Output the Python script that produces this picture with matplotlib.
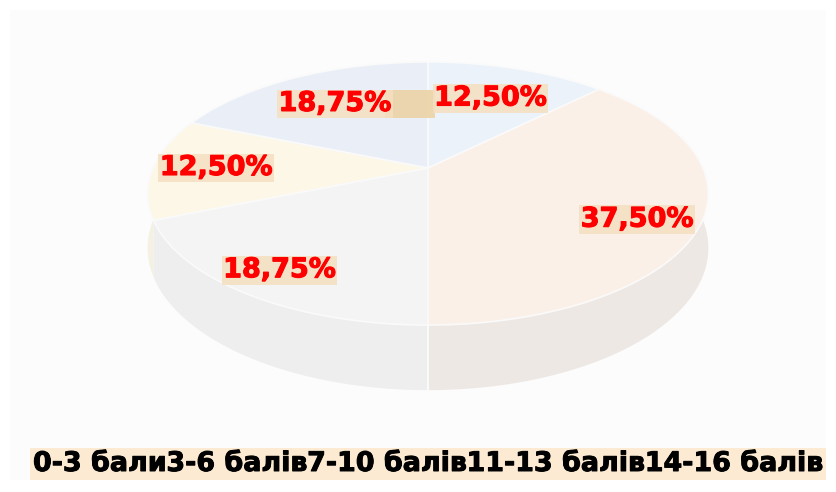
import numpy as np
import matplotlib
matplotlib.use("Agg")
import matplotlib.pyplot as plt
import matplotlib.patheffects as pe
from matplotlib.patches import Polygon, Rectangle

categories = ["0-3 бали", "3-6 балів", "7-10 балів", "11-13 балів", "14-16 балів"]
values = [12.50, 37.50, 18.75, 12.50, 18.75]
labels = ["12,50%", "37,50%", "18,75%", "12,50%", "18,75%"]

top_colors = ["#ebf2fa", "#fbf0e8", "#f4f4f4", "#fdf7e8", "#eaeff7"]
side_colors = ["#e6ecf3", "#eee8e4", "#eeeeee", "#f4f0e4", "#e6eaf1"]

W, H = 836, 492
fig = plt.figure(figsize=(W / 100, H / 100), dpi=100)
ax = fig.add_axes([0, 0, 1, 1])
ax.set_xlim(0, W)
ax.set_ylim(H, 0)
ax.axis("off")

# faint panel
ax.add_patch(Rectangle((10, 10), 816, 470, facecolor="#fcfcfc", edgecolor="none", zorder=0))

# perspective mapping of a unit disk
cx, cy = 428.0, 168.0
gam = 0.1939
alpha = -94.0
ax_a = 275.0
depth = 52.5


def proj(X, Y, z=0.0):
    w = gam * Y + 1.0
    u = cx + ax_a * X / w
    v = (alpha * Y + cy) / w + z / w
    return u, v


fracs = np.array(values) / np.sum(values)
starts = np.concatenate([[0], np.cumsum(fracs)[:-1]])


def angle(f):
    # clockwise from 12 o'clock
    return np.pi / 2 - 2 * np.pi * f


# sides (front half only visible)
for i, (s, f) in enumerate(zip(starts, fracs)):
    t = np.linspace(angle(s), angle(s + f), 200)
    X, Y = np.cos(t), np.sin(t)
    mask = Y <= 0.02
    if not mask.any():
        continue
    X, Y = X[mask], Y[mask]
    u1, v1 = proj(X, Y)
    u2, v2 = proj(X, Y, depth)
    pts = np.concatenate([np.column_stack([u1, v1]), np.column_stack([u2, v2])[::-1]])
    ax.add_patch(Polygon(pts, closed=True, facecolor=side_colors[i], edgecolor="none", zorder=1))

# vertical seam line at front
u1, v1 = proj(0, -1)
u2, v2 = proj(0, -1, depth)
ax.plot([u1, u2], [v1, v2], color="#fafafa", lw=1.5, zorder=1.5)

# top surface
for i, (s, f) in enumerate(zip(starts, fracs)):
    t = np.linspace(angle(s), angle(s + f), 200)
    X = np.concatenate([[0], np.cos(t)])
    Y = np.concatenate([[0], np.sin(t)])
    u, v = proj(X, Y)
    ax.add_patch(Polygon(np.column_stack([u, v]), closed=True, facecolor=top_colors[i],
                         edgecolor="#fafafa", lw=1.2, zorder=2))

# labels
label_r = [0.665, 0.80, 0.84, 0.77, 0.675]
label_dt = [0.0, -0.10, 0.0, 0.0, 0.0]
for i, (s, f) in enumerate(zip(starts, fracs)):
    t = angle(s + f / 2) + label_dt[i]
    u, v = proj(label_r[i] * np.cos(t), label_r[i] * np.sin(t))
    ax.text(u, v, labels[i], color="#ff0000", fontsize=19.5, fontweight="bold",
            ha="center", va="center", zorder=5,
            path_effects=[pe.withStroke(linewidth=0.8, foreground="#ff0000")],
            bbox=dict(boxstyle="square,pad=0.05", facecolor="#f5dfc0", edgecolor="none", alpha=0.85))

# empty label box (zero-width label)
ax.text(410, 104, "     ", fontsize=19.5, fontweight="bold", ha="center", va="center", zorder=4,
        bbox=dict(boxstyle="square,pad=0.05", facecolor="#ecd3a6", edgecolor="none", alpha=0.9))

# legend
handles = [Rectangle((0, 0), 0, 0, facecolor=c, edgecolor="none") for c in top_colors]
leg = ax.legend(handles, categories, loc="center", bbox_to_anchor=(428 / W, 1 - 464 / H),
                ncol=5, handlelength=0, handletextpad=0, columnspacing=0,
                borderpad=0.1, borderaxespad=0, frameon=True, fancybox=False,
                prop=dict(size=19.4, weight="bold"))
leg.get_frame().set_facecolor("#fcebd2")
leg.get_frame().set_edgecolor("none")
leg.get_frame().set_alpha(1)
for txt in leg.get_texts():
    txt.set_path_effects([pe.withStroke(linewidth=0.7, foreground="black")])

fig.savefig("out.png", dpi=100)
